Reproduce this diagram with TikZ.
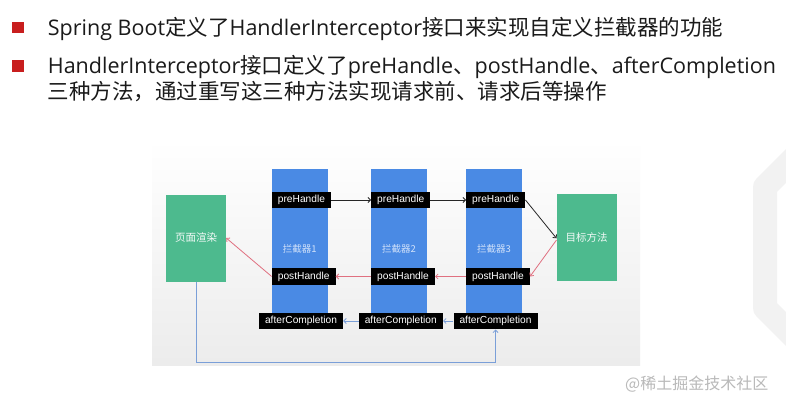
\documentclass[tikz,border=0pt]{standalone}
\usepackage{fontspec}
\setmainfont{Open Sans}
\newfontfamily\cjk{Noto Sans CJK SC}
\newfontfamily\lab{Liberation Sans}
\usetikzlibrary{arrows.meta,calc}
\definecolor{colblue}{HTML}{4A8AE4}
\definecolor{boxgreen}{HTML}{4DBA8E}
\definecolor{arrred}{HTML}{E07080}
\definecolor{arrblue}{HTML}{7A9FD8}
\definecolor{bulred}{HTML}{C81E1E}
\definecolor{txt}{HTML}{1A1A1A}
\definecolor{coltxt}{HTML}{D2E2FA}
\tikzset{
  bul/.style={fill=bulred, minimum width=12pt, minimum height=11.6pt, inner sep=0},
  line/.style={anchor=base west, inner sep=0, text=txt, font=\fontsize{21.5}{26}\selectfont},
  colbox/.style={fill=colblue, minimum width=56pt, minimum height=144pt, inner sep=0},
  coltext/.style={text=coltxt, font=\cjk\fontsize{9.5}{11}\selectfont, inner sep=0},
  greenbox/.style={fill=boxgreen, minimum width=60pt, minimum height=87pt, inner sep=0, text=white!92!boxgreen, font=\cjk\fontsize{10.5}{12}\selectfont},
  lbl/.style={fill=black, text=white, font=\lab\fontsize{10.2}{12}\selectfont, inner xsep=6pt, inner ysep=0pt, minimum height=16.6pt},
  blk/.style={draw=black!85, line width=0.8pt, -{Straight Barb[length=2.5pt,width=5pt]}},
  redarr/.style={draw=arrred, line width=0.8pt, -{Straight Barb[length=2.5pt,width=5pt]}},
  bluearr/.style={draw=arrblue, line width=0.8pt, -{Straight Barb[length=2.5pt,width=5pt]}},
}
\begin{document}
\begin{tikzpicture}[x=1pt,y=-1pt]
\useasboundingbox (0,0) rectangle (786,406);
\fill[white] (0,0) rectangle (786,406);
% panel background
\shade[top color=white, bottom color=gray!15] (152,140) rectangle (640,365);
% logo shape on the right
\begin{scope}
\clip (0,0) rectangle (786,406);
\draw[gray!10, line width=24pt, line join=round] (802,150) -- (765,187) -- (765,308) -- (802,345);
\end{scope}
% bullets and text
\node[bul] (b1) at (18.3,27.5) {};
\node[bul] (b2) at (18.3,65.8) {};
\node[line] (l1) at (47.7,36) {Spring Boot{\cjk 定义了}HandlerInterceptor{\cjk 接口来实现自定义拦截器的功能}};
\node[line] (l2) at (47.7,73.3) {HandlerInterceptor{\cjk 接口定义了}preHandle{\cjk 、}postHandle{\cjk 、}afterCompletion};
\node[line] (l3) at (47.7,100) {\cjk 三种方法，通过重写这三种方法实现请求前、请求后等操作};
% columns
\node[colbox] (c1) at (299.7,241) {};
\node[colbox] (c2) at (399,241) {};
\node[colbox] (c3) at (494,241) {};
\node[coltext] (t1) at (299.7,249) {拦截器1};
\node[coltext] (t2) at (399,249) {拦截器2};
\node[coltext] (t3) at (494,249) {拦截器3};
% green boxes
\node[greenbox] (page) at (196,238) {页面渲染};
\node[greenbox] (tg) at (586.7,237.5) {目标方法};
% labels
\node[lbl, anchor=west] (p1) at (271.7,200) {preHandle};
\node[lbl, anchor=west] (p2) at (371,200) {preHandle};
\node[lbl, anchor=west] (p3) at (466,200) {preHandle};
\node[lbl, anchor=west] (q1) at (271.7,276.5) {postHandle};
\node[lbl, anchor=west] (q2) at (371,276.5) {postHandle};
\node[lbl, anchor=west] (q3) at (466,276.5) {postHandle};
\node[lbl] (a1) at (301,321) {afterCompletion};
\node[lbl] (a2) at (400.8,321) {afterCompletion};
\node[lbl] (a3) at (495.5,321) {afterCompletion};
% arrows
\draw[blk] (p1.east) -- (p2.west);
\draw[blk] (p2.east) -- (p3.west);
\draw[blk] (p3.east) -- ([yshift=-0.8pt]tg.west);
\draw[redarr] ([yshift=-2.5pt]tg.west) -- (q3.east);
\draw[redarr] (q3.west) -- (q2.east);
\draw[redarr] (q2.west) -- (q1.east);
\draw[redarr] (q1.west) -- (page.east);
\draw[bluearr] (a3.west) -- (a2.east);
\draw[bluearr] (a2.west) -- (a1.east);
\draw[bluearr] (page.south) |- (a3.south |- 0,362.5) -- (a3.south);
% watermark
\node[anchor=west, inner sep=0, text=gray!55, font=\cjk\fontsize{16}{18}\selectfont] (wm) at (625,384) {@稀土掘金技术社区};
\end{tikzpicture}
\end{document}
